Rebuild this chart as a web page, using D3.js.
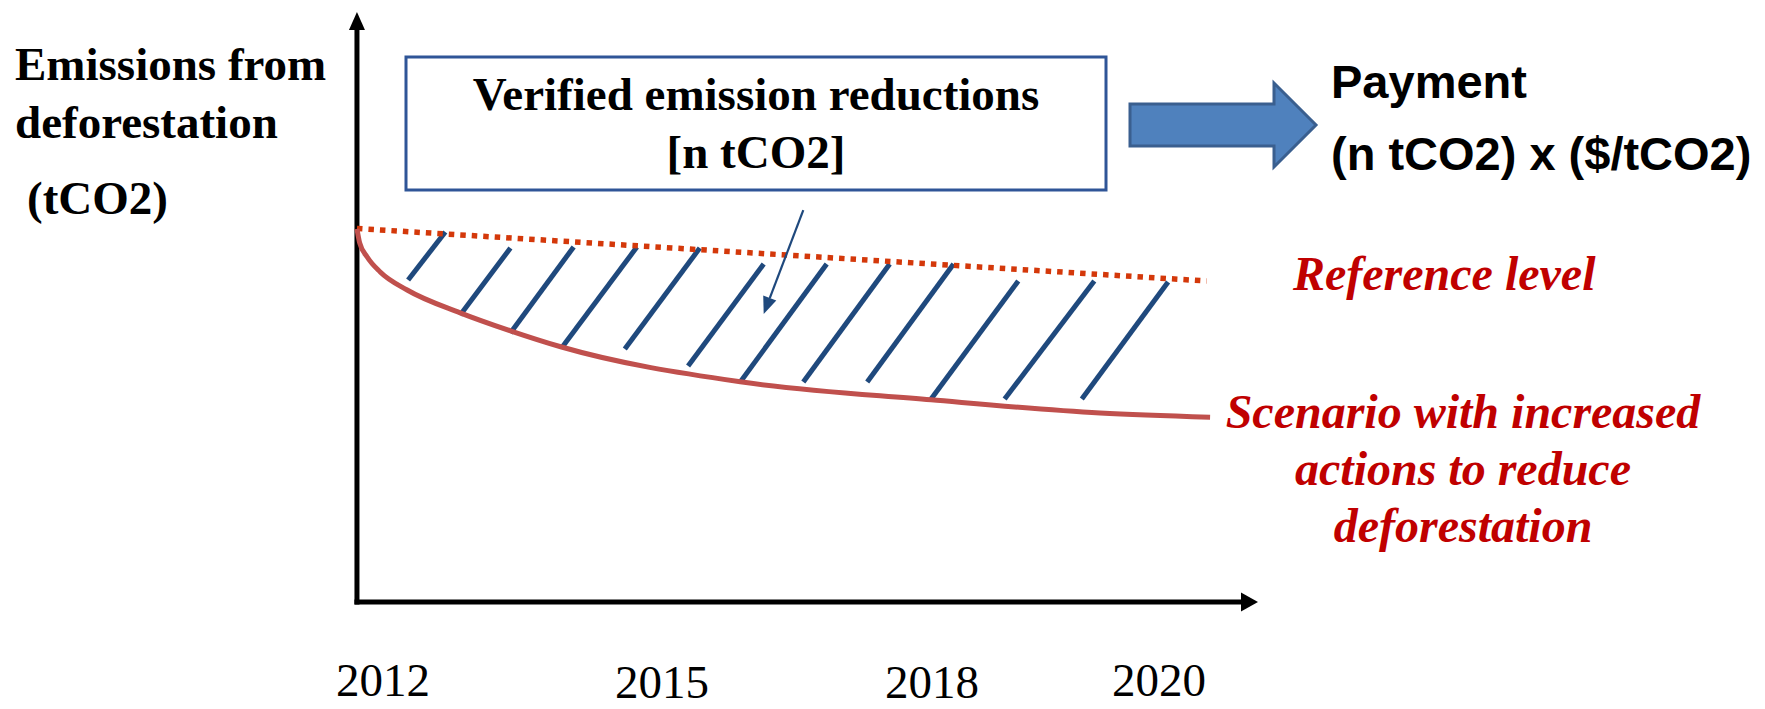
<!DOCTYPE html>
<html lang="en">
    <head>
        <title>REDD+ payment diagram</title>
        <meta charset="UTF-8">
        <script src="https://cdn.jsdelivr.net/npm/d3@7"></script>
    </head>
    <style>
        body { margin: 0; background: #fff; }
        .serif { font-family: "Liberation Serif", "Times New Roman", serif; }
        .sans { font-family: "Liberation Sans", Arial, sans-serif; }
    </style>
    <body>
        <script>
            // ---- data ----
            const tickYears = [2012, 2015, 2018, 2020]
            const tickLabels = ["2012", "2015", "2018", "2020"]

            // reference level (dotted)
            const refYears = [2011.72, 2020.42]
            const refValues = [62.25, 53.5]

            // scenario with increased actions
            const scenarioYears = [2011.72, 2011.75, 2011.83, 2011.97, 2012.26, 2012.83, 2013.37, 2013.92, 2015.87, 2017.99, 2019.48, 2020.45]
            const scenarioValues = [62.2, 59.8, 57.5, 55.0, 52.0, 48.2, 45.2, 42.5, 36.7, 33.7, 31.5, 30.8]

            // hatch strokes: bottom end -> top end
            const hatchYearsLow = [2012.27, 2012.83, 2013.37, 2013.92, 2014.60, 2015.29, 2015.87, 2016.57, 2017.28, 2017.99, 2018.64, 2019.32]
            const hatchValuesLow = [53.67, 47.83, 44.83, 42.33, 42.17, 39.33, 36.67, 36.67, 36.67, 33.83, 33.83, 33.83]
            const hatchYearsHigh = [2012.67, 2013.37, 2014.05, 2014.73, 2015.42, 2016.13, 2016.83, 2017.53, 2018.19, 2018.76, 2019.43, 2020.08]
            const hatchValuesHigh = [61.67, 59.0, 59.17, 59.17, 59.0, 56.33, 56.33, 56.33, 56.33, 53.5, 53.5, 53.33]

            // pointer from the box into the hatched area
            const pointerYears = [2016.57, 2016.13]
            const pointerValues = [65.3, 48.0]

            const yTitle = ["Emissions from", "deforestation", "(tCO2)"]
            const boxLines = ["Verified emission reductions", "[n tCO2]"]
            const paymentLines = ["Payment", "(n tCO2) x ($/tCO2)"]
            const refLabel = "Reference level"
            const scenarioLabel = ["Scenario with increased", "actions to reduce", "deforestation"]

            const width = 1765
            const height = 709

            // tick labels are not evenly spaced on the slide, so piecewise scale
            var x = d3.scaleLinear()
                      .domain(tickYears)
                      .range([383, 662, 932, 1159])
            var y = d3.scaleLinear()
                      .domain([0, 100])
                      .range([602, 2])

            var svg = d3.select("body")
                .append("svg")
                .attr("width", width)
                .attr("height", height)

            var originX = x(refYears[0])
            var originY = y(0)

            //axes with arrow heads
            svg.append("line")
               .attr("x1", originX).attr("y1", originY + 2.5)
               .attr("x2", originX).attr("y2", 28)
               .attr("stroke", "#000").attr("stroke-width", 5)
            svg.append("path")
               .attr("d", `M${originX - 8},30 L${originX},12 L${originX + 8},30 Z`)
               .attr("fill", "#000")
            svg.append("line")
               .attr("x1", originX - 2.5).attr("y1", originY)
               .attr("x2", 1243).attr("y2", originY)
               .attr("stroke", "#000").attr("stroke-width", 5)
            svg.append("path")
               .attr("d", `M1241,${originY - 9.5} L1258,${originY} L1241,${originY + 9.5} Z`)
               .attr("fill", "#000")

            // tick labels
            svg.selectAll("text.tick")
               .data(tickYears)
               .enter()
               .append("text")
               .attr("class", "tick serif")
               .attr("x", function(d){ return x(d) })
               .attr("y", function(d, i){ return (i == 1 || i == 2) ? 698 : 696 })
               .attr("text-anchor", "middle")
               .style("font-size", "47px")
               .text(function(d, i){ return tickLabels[i] })

            // y title
            svg.selectAll("text.ytitle")
               .data(yTitle)
               .enter()
               .append("text")
               .attr("class", "ytitle serif")
               .attr("x", function(d, i){ return i == 2 ? 27 : 15 })
               .attr("y", function(d, i){ return [80, 138, 214][i] })
               .style("font-size", "47px")
               .style("font-weight", "bold")
               .text(function(d){ return d })

            // hatch strokes
            svg.selectAll("line.hatch")
               .data(hatchYearsLow)
               .enter()
               .append("line")
               .attr("class", "hatch")
               .attr("x1", function(d){ return x(d) })
               .attr("y1", function(d, i){ return y(hatchValuesLow[i]) })
               .attr("x2", function(d, i){ return x(hatchYearsHigh[i]) })
               .attr("y2", function(d, i){ return y(hatchValuesHigh[i]) })
               .attr("stroke", "#1F497D")
               .attr("stroke-width", 5)

            // reference level
            var line = d3.line()
                         .x(function(d){ return x(d[0]) })
                         .y(function(d){ return y(d[1]) })
            svg.append("path")
               .attr("d", line(d3.zip(refYears, refValues)))
               .attr("fill", "none")
               .attr("stroke", "#D4380A")
               .attr("stroke-width", 5.5)
               .attr("stroke-dasharray", "5.5,6")

            // scenario curve
            svg.append("path")
               .attr("d", line.curve(d3.curveMonotoneX)(d3.zip(scenarioYears, scenarioValues)))
               .attr("fill", "none")
               .attr("stroke", "#C0504D")
               .attr("stroke-width", 5)

            // box with verified reductions
            svg.append("rect")
               .attr("x", 406).attr("y", 57)
               .attr("width", 700).attr("height", 133)
               .attr("fill", "#fff")
               .attr("stroke", "#2F5597")
               .attr("stroke-width", 3)
            svg.selectAll("text.box")
               .data(boxLines)
               .enter()
               .append("text")
               .attr("class", "box serif")
               .attr("x", 756)
               .attr("y", function(d, i){ return 110 + i * 58 })
               .attr("text-anchor", "middle")
               .style("font-size", "47px")
               .style("font-weight", "bold")
               .text(function(d){ return d })

            // thin pointer arrow
            var p0 = [x(pointerYears[0]), y(pointerValues[0])]
            var p1 = [x(pointerYears[1]), y(pointerValues[1])]
            var ang = Math.atan2(p1[1] - p0[1], p1[0] - p0[0])
            var hl = 17, hw = 7
            var bx = p1[0] - hl * Math.cos(ang), by = p1[1] - hl * Math.sin(ang)
            svg.append("line")
               .attr("x1", p0[0]).attr("y1", p0[1])
               .attr("x2", bx).attr("y2", by)
               .attr("stroke", "#1F497D").attr("stroke-width", 2.2)
            svg.append("path")
               .attr("d", `M${p1[0]},${p1[1]} L${bx - hw * Math.sin(ang)},${by + hw * Math.cos(ang)} L${bx + hw * Math.sin(ang)},${by - hw * Math.cos(ang)} Z`)
               .attr("fill", "#1F497D")

            // block arrow to payment
            svg.append("path")
               .attr("d", "M1130,104 L1274,104 L1274,83 L1316,125 L1274,167 L1274,146 L1130,146 Z")
               .attr("fill", "#4F81BD")
               .attr("stroke", "#3A5F8F")
               .attr("stroke-width", 3)
               .attr("stroke-linejoin", "miter")

            svg.selectAll("text.pay")
               .data(paymentLines)
               .enter()
               .append("text")
               .attr("class", "pay sans")
               .attr("x", 1331)
               .attr("y", function(d, i){ return 98 + i * 72 })
               .style("font-size", "47px")
               .style("font-weight", "bold")
               .text(function(d){ return d })

            // red italic labels
            svg.append("text")
               .attr("class", "serif")
               .attr("x", 1293).attr("y", 290)
               .attr("fill", "#C00000")
               .style("font-size", "48px")
               .style("font-weight", "bold")
               .style("font-style", "italic")
               .text(refLabel)

            svg.selectAll("text.scen")
               .data(scenarioLabel)
               .enter()
               .append("text")
               .attr("class", "scen serif")
               .attr("x", 1463)
               .attr("y", function(d, i){ return 428 + i * 57 })
               .attr("text-anchor", "middle")
               .attr("fill", "#C00000")
               .style("font-size", "48px")
               .style("font-weight", "bold")
               .style("font-style", "italic")
               .text(function(d){ return d })
        </script>
    </body>
</html>
